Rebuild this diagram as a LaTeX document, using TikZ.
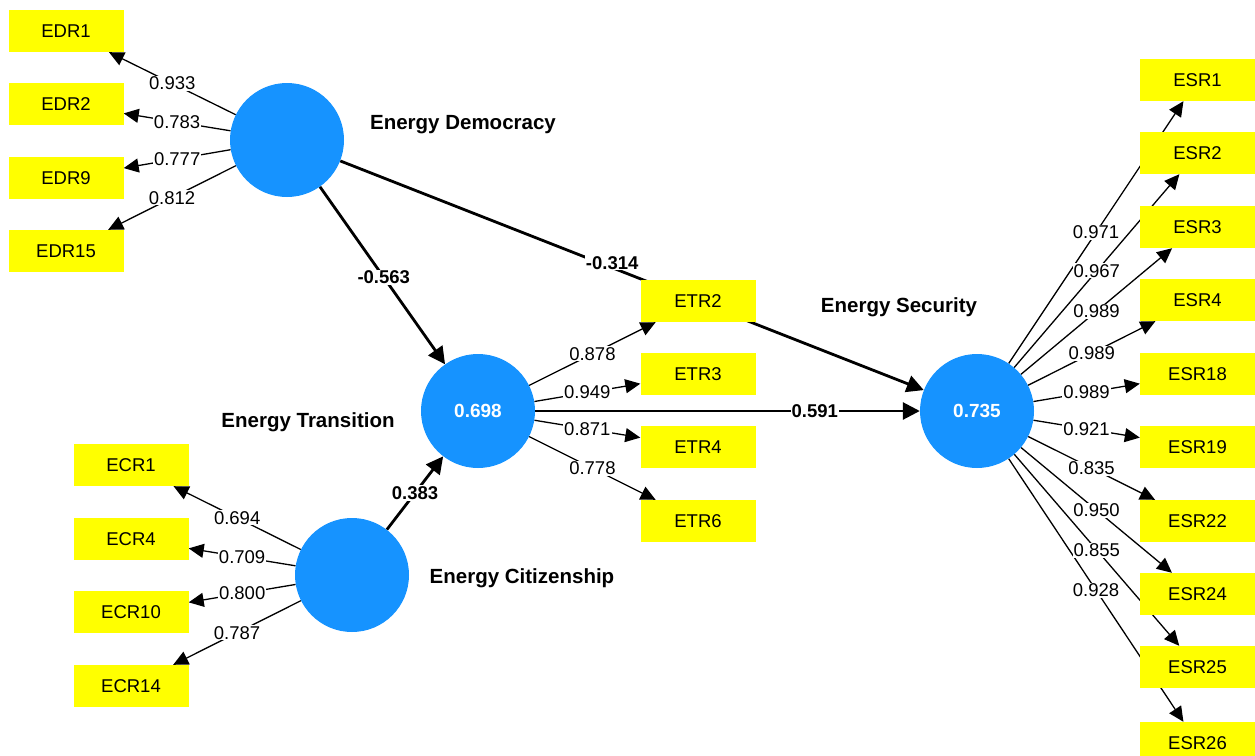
\documentclass[tikz,border=0pt]{standalone}
\usepackage{fontspec}
\setmainfont{Liberation Sans}
\usetikzlibrary{arrows.meta}
\definecolor{plsblue}{RGB}{22,147,255}
\definecolor{plsyellow}{RGB}{255,255,0}
\pgfdeclarelayer{bg}
\pgfsetlayers{bg,main}
\begin{document}
\begin{tikzpicture}[x=1pt,y=-1pt,
  ind/.style={fill=plsyellow, minimum width=115pt, minimum height=42pt, inner sep=0pt, font=\fontsize{18.5}{20}\selectfont},
  lv/.style={circle, fill=plsblue, minimum size=114pt, inner sep=0pt, text=white, font=\fontsize{19}{21}\selectfont\bfseries},
  cname/.style={inner sep=0pt, font=\fontsize{20.5}{23}\selectfont\bfseries},
  load/.style={line width=1.3pt, -{Triangle[length=15pt,width=14pt]}},
  pathc/.style={line width=2.8pt, -{Triangle[length=17pt,width=17pt]}},
  lbl/.style={fill=white, inner sep=1pt, font=\fontsize{18.5}{20}\selectfont},
  plbl/.style={fill=white, inner sep=1pt, font=\fontsize{18.5}{20}\selectfont\bfseries},
]
\useasboundingbox (0,0) rectangle (1255,755);
\clip (0,0) rectangle (1255,755);

% latent variables
\node[lv] (ED) at (287,140) {};
\node[lv] (ET) at (478,411) {0.698};
\node[lv] (EC) at (352,575) {};
\node[lv] (ES) at (977,411) {0.735};

% construct names
\node[cname] (EDn) at (463,125) {Energy Democracy};
\node[cname] (ETn) at (308,422) {Energy Transition};
\node[cname] (ECn) at (522,578) {Energy Citizenship};
\node[cname] (ESn) at (899,307) {Energy Security};

% indicators
\node[ind] (EDR1) at (66,31) {EDR1};
\node[ind] (EDR2) at (66,104) {EDR2};
\node[ind] (EDR9) at (66,178) {EDR9};
\node[ind] (EDR15) at (66,251) {EDR15};

\node[ind] (ECR1) at (131,465) {ECR1};
\node[ind] (ECR4) at (131,539) {ECR4};
\node[ind] (ECR10) at (131,612) {ECR10};
\node[ind] (ECR14) at (131,686) {ECR14};

\node[ind] (ETR2) at (698,301) {ETR2};
\node[ind] (ETR3) at (698,374) {ETR3};
\node[ind] (ETR4) at (698,447) {ETR4};
\node[ind] (ETR6) at (698,521) {ETR6};

\node[ind] (ESR1) at (1197.5,80) {ESR1};
\node[ind] (ESR2) at (1197.5,153) {ESR2};
\node[ind] (ESR3) at (1197.5,227) {ESR3};
\node[ind] (ESR4) at (1197.5,300) {ESR4};
\node[ind] (ESR18) at (1197.5,374) {ESR18};
\node[ind] (ESR19) at (1197.5,447) {ESR19};
\node[ind] (ESR22) at (1197.5,521) {ESR22};
\node[ind] (ESR24) at (1197.5,594) {ESR24};
\node[ind] (ESR25) at (1197.5,667) {ESR25};
\node[ind] (ESR26) at (1197.5,743) {ESR26};

\begin{pgfonlayer}{bg}
% loadings
\foreach \a/\b in {ED/EDR1,ED/EDR2,ED/EDR9,ED/EDR15,
                   EC/ECR1,EC/ECR4,EC/ECR10,EC/ECR14,
                   ET/ETR2,ET/ETR3,ET/ETR4,ET/ETR6,
                   ES/ESR1,ES/ESR2,ES/ESR3,ES/ESR4,ES/ESR18,
                   ES/ESR19,ES/ESR22,ES/ESR24,ES/ESR25,ES/ESR26}
  \draw[load] (\a) -- (\b);
% structural paths
\draw[pathc] (ED) -- (ET);
\draw[pathc] (EC) -- (ET);
\draw[pathc] (ET) -- (ES);
\draw[pathc] (ED) -- (ES);
% labels
\foreach \a/\b/\v in {ED/EDR1/0.933,ED/EDR2/0.783,ED/EDR9/0.777,ED/EDR15/0.812,
                   EC/ECR1/0.694,EC/ECR4/0.709,EC/ECR10/0.800,EC/ECR14/0.787,
                   ET/ETR2/0.878,ET/ETR3/0.949,ET/ETR4/0.871,ET/ETR6/0.778,
                   ES/ESR1/0.971,ES/ESR2/0.967,ES/ESR3/0.989,ES/ESR4/0.989,ES/ESR18/0.989,
                   ES/ESR19/0.921,ES/ESR22/0.835,ES/ESR24/0.950,ES/ESR25/0.855,ES/ESR26/0.928}
  \path (\a) -- (\b) node[lbl,pos=0.5] {\v};
\path (ED) -- (ET) node[plbl,pos=0.51] {-0.563};
\path (EC) -- (ET) node[plbl,pos=0.5] {0.383};
\path (ET) -- (ES) node[plbl,pos=0.727] {0.591};
\path (ED) -- (ES) node[plbl,pos=0.466,yshift=5pt] {-0.314};
\end{pgfonlayer}
\end{tikzpicture}
\end{document}
